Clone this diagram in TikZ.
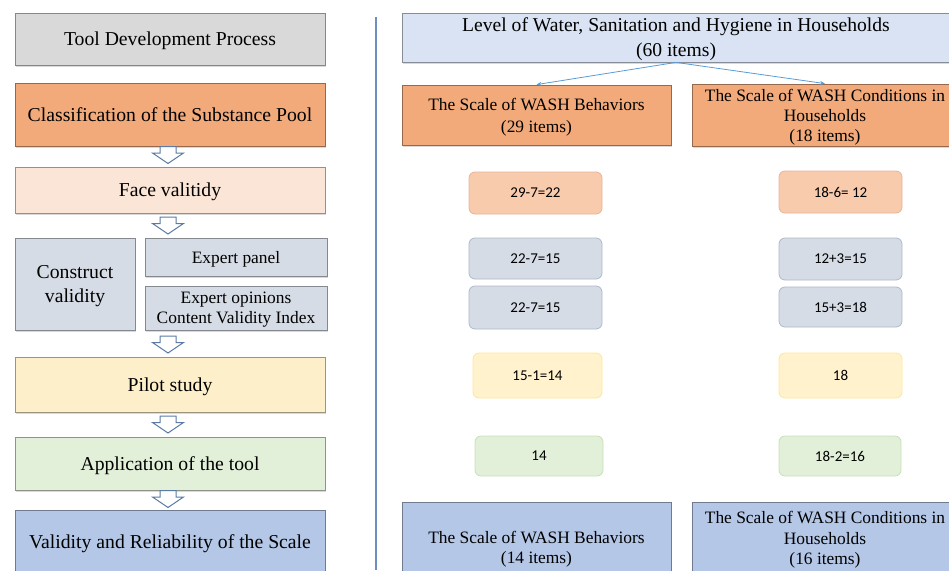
\documentclass[tikz,border=0pt]{standalone}
\usepackage{fontspec}
\setmainfont{Liberation Serif}
\newfontfamily\numfont{Carlito}
\usetikzlibrary{shadows,calc,arrows.meta}
\definecolor{cGray}{HTML}{D9D9D9}
\definecolor{cOrange}{HTML}{F2AA7B}
\definecolor{cPeach}{HTML}{FBE5D6}
\definecolor{cSlate}{HTML}{D6DCE5}
\definecolor{cYellow}{HTML}{FCEFC9}
\definecolor{cGreen}{HTML}{E2F0D9}
\definecolor{cBlue}{HTML}{B4C7E7}
\definecolor{cPale}{HTML}{DAE3F3}
\definecolor{sOrange}{HTML}{F8CBAD}
\definecolor{sOrangeB}{HTML}{E6B498}
\definecolor{sSlateB}{HTML}{ADB9CA}
\definecolor{sYellow}{HTML}{FFF2CC}
\definecolor{sYellowB}{HTML}{FFE699}
\definecolor{sGreenB}{HTML}{C5E0B4}
\definecolor{arrowc}{HTML}{5B7BA5}
\definecolor{connc}{HTML}{5B9BD5}
\definecolor{vlinec}{HTML}{6D8FC0}
\begin{document}
\begin{tikzpicture}[x=1pt,y=-1pt,
  box/.style={draw=#1!62!black, fill=#1, line width=0.8pt, align=center, inner sep=1pt, text depth=0pt,
    drop shadow={shadow xshift=1.2pt, shadow yshift=-1.6pt, opacity=0.3}},
  lowtext/.style={text depth=-2pt},
  big/.style={font=\fontsize{19.7}{24}\selectfont},
  mid/.style={font=\fontsize{17.4}{20}\selectfont},
  rbox/.style 2 args={draw=#2, fill=#1, line width=0.8pt, rounded corners=6pt,
    font=\numfont\fontsize{15}{18}\selectfont},
  arrowline/.style={draw=arrowc, fill=white, line width=1pt, line join=miter},
  downarrow/.pic={\path[arrowline] (-8,-8.5) -- (8,-8.5) -- (8,-2) -- (15.5,-2) -- (0,8.5) -- (-15.5,-2) -- (-8,-2) -- cycle;},
  conn/.style={draw=connc, line width=0.8pt, -{Stealth[length=5pt,width=4pt]}}
]
\useasboundingbox (0,0) rectangle (949,570);

% left column
\node[box=cGray, big, minimum width=310pt, minimum height=52pt] (tool) at (170,39) {Tool Development Process};
\node[box=cOrange, big, minimum width=310pt, minimum height=63pt] (cls) at (170,114.5) {Classification of the Substance Pool};
\node[box=cPeach, big, minimum width=310pt, minimum height=46pt] (face) at (170,190) {Face valitidy};
\node[box=cSlate, big, minimum width=120pt, minimum height=92pt] (cons) at (75,284) {Construct\\validity};
\node[box=cSlate, mid, minimum width=182pt, minimum height=38pt] (panel) at (236,257) {Expert panel};
\node[box=cSlate, mid, minimum width=182pt, minimum height=44pt] (opin) at (236,308) {Expert opinions\\Content Validity Index};
\node[box=cYellow, big, minimum width=310pt, minimum height=55pt] (pilot) at (170,384.5) {Pilot study};
\node[box=cGreen, big, minimum width=310pt, minimum height=53pt] (app) at (170,463.5) {Application of the tool};
\node[box=cBlue, big, minimum width=310pt, minimum height=64pt] (valid) at (170,542) {Validity and Reliability of the Scale};

\pic at ($(cls.south)!0.5!(face.north)+(-2,-1.5)$) {downarrow};
\pic at ($(face.south)!0.5!(face.south|-cons.north)+(-2,0)$) {downarrow};
\pic at ($(pilot.north)!0.5!(pilot.north|-cons.south)+(-2,1)$) {downarrow};
\pic at ($(pilot.south)!0.5!(app.north)+(-2,0)$) {downarrow};
\pic at ($(app.south)!0.5!(valid.north)+(-2,-1)$) {downarrow};

% separator
\coordinate (vtop) at (376,17);
\coordinate (vbot) at (376,570);
\draw[vlinec, line width=1.2pt] (vtop) -- (vbot);

% right column
\node[box=cPale, lowtext, font=\fontsize{19.6}{25}\selectfont, minimum width=548pt, minimum height=49pt] (level) at (676,37.5) {Level of Water, Sanitation and Hygiene in Households\\(60 items)};
\node[box=cOrange, lowtext, font=\fontsize{17.4}{22}\selectfont, minimum width=269pt, minimum height=60pt] (beh) at (536.5,115) {The Scale of WASH Behaviors\\(29 items)};
\node[box=cOrange, lowtext, font=\fontsize{17.4}{20}\selectfont, minimum width=266pt, minimum height=62pt] (cond) at (825,115) {The Scale of WASH Conditions in\\Households\\(18 items)};
\draw[conn] (level.south) -- (beh.north);
\draw[conn] (level.south) -- (cond.north);

\node[rbox={sOrange}{sOrangeB}, minimum width=133pt, minimum height=42pt] (n1) at (535.5,193) {29-7=22};
\node[rbox={sOrange}{sOrangeB}, minimum width=123pt, minimum height=42pt] (m1) at (840.5,192) {18-6= 12};
\node[rbox={cSlate}{sSlateB}, minimum width=133pt, minimum height=41pt] (n2) at (535.5,258.5) {22-7=15};
\node[rbox={cSlate}{sSlateB}, minimum width=133pt, minimum height=43pt] (n3) at (535.5,307.5) {22-7=15};
\node[rbox={cSlate}{sSlateB}, minimum width=123pt, minimum height=42pt] (m2) at (840.5,259) {12+3=15};
\node[rbox={cSlate}{sSlateB}, minimum width=123pt, minimum height=40pt] (m3) at (840.5,307) {15+3=18};
\node[rbox={sYellow}{sYellowB}, minimum width=129pt, minimum height=45pt] (n4) at (537.5,375.5) {15-1=14};
\node[rbox={sYellow}{sYellowB}, minimum width=123pt, minimum height=45pt] (m4) at (840.5,375.5) {18};
\node[rbox={cGreen}{sGreenB}, minimum width=128pt, minimum height=40pt] (n5) at (539,456) {14};
\node[rbox={cGreen}{sGreenB}, minimum width=122pt, minimum height=40pt] (m5) at (840,456) {18-2=16};

\node[box=cBlue, lowtext, font=\fontsize{17.4}{20}\selectfont, minimum width=269pt, minimum height=90pt] (beh2) at (536.5,547) {The Scale of WASH Behaviors\\(14 items)};
\node[box=cBlue, lowtext, font=\fontsize{17.4}{20.5}\selectfont, minimum width=266pt, minimum height=72pt] (cond2) at (825,538) {The Scale of WASH Conditions in\\Households\\(16 items)};
\end{tikzpicture}
\end{document}
